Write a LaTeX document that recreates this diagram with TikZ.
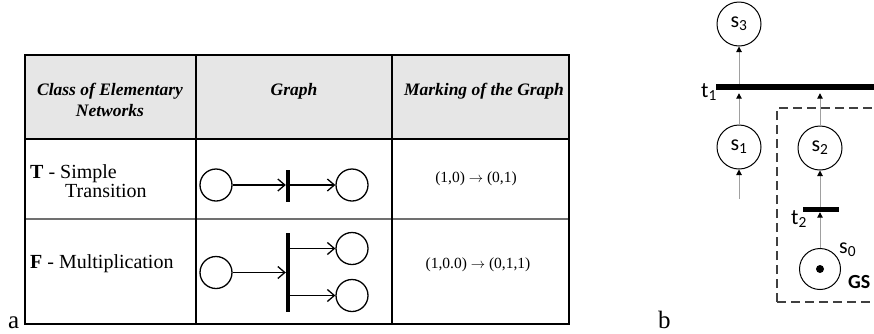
\documentclass[tikz,border=0pt]{standalone}
\usepackage{fontspec}
\setmainfont{Liberation Serif}
\newfontfamily\calfont{Carlito}
\usetikzlibrary{arrows.meta}
\definecolor{hdrgray}{HTML}{E6E6E6}
\definecolor{arcgray}{HTML}{A0A0A0}
\definecolor{dashgray}{HTML}{404040}
\begin{document}
\begin{tikzpicture}[x=1bp,y=-1bp,
  place/.style={circle, draw, line width=1.3bp, minimum size=32bp, inner sep=0pt},
  gbar/.style={rectangle, fill=black, inner sep=0pt, minimum width=4bp},
  garrow/.style={line width=1.3bp, -{Straight Barb[length=7bp,width=12bp,line width=1.3bp]}},
  hdr/.style={font=\fontsize{17.5bp}{21bp}\selectfont\bfseries\itshape, align=center},
  rowtxt/.style={font=\fontsize{20bp}{22bp}\selectfont, anchor=base west, inner sep=0pt},
  marktxt/.style={font=\fontsize{15.5bp}{17bp}\selectfont},
  pnode/.style={circle, draw, line width=1bp, minimum size=44bp, inner sep=0pt, font=\calfont\fontsize{22bp}{24bp}\selectfont},
  pbar/.style={rectangle, fill=black, inner sep=0pt},
  parc/.style={draw=arcgray, line width=1bp, -{Triangle[length=5.5bp,width=5.5bp,color=black]}},
  plabel/.style={font=\calfont\fontsize{22bp}{24bp}\selectfont, inner sep=0pt},
  sublabel/.style={font=\fontsize{25bp}{28bp}\selectfont, anchor=base west, inner sep=0pt}
]
\useasboundingbox (0,0) rectangle (874,333);
\clip (0,0) rectangle (874,333);

% ---------- part a: table ----------
\fill[hdrgray] (25,55) rectangle (569,139);
\draw[arcgray!70!black, line width=1.5bp] (25,219) -- (569,219);
\draw[line width=2bp] (25,139) -- (569,139);
\draw[line width=1.5bp] (196,55) -- (196,324);
\draw[line width=1.5bp] (392,55) -- (392,324);
\draw[line width=2bp] (25,55) rectangle (569,324);

\node[hdr] (h1) at (110,100) {Class of Elementary\\Networks};
\node[hdr] (h2) at (294,91) {Graph};
\node[hdr] (h3) at (484,91) {Marking of the Graph};

\node[rowtxt] (r1a) at (30,178) {\textbf{T} - Simple};
\node[rowtxt] (r1b) at (65,197) {Transition};
\node[rowtxt] (r2a) at (30,268) {\textbf{F} - Multiplication};

\node[marktxt] (m1) at (476,179) {(1,0) $\rightarrow$ (0,1)};
\node[marktxt] (m2) at (478,265) {(1,0.0) $\rightarrow$ (0,1,1)};

% row 1 graph
\node[place] (c1) at (216,185) {};
\node[place] (c2) at (352,185) {};
\node[gbar, minimum height=32bp] (bar1) at (288,186) {};
\draw[garrow] (c1) -- (bar1.west |- c1);
\draw[garrow] (bar1.east |- c1) -- (c2);

% row 2 graph
\node[place] (c3) at (216,272.5) {};
\node[place] (c4) at (352,248.5) {};
\node[place] (c5) at (352,295.5) {};
\node[gbar, minimum height=79bp] (bar2) at (288,272.5) {};
\draw[garrow] (c3) -- (bar2.west |- c3);
\draw[garrow] (bar2.east |- c4) -- (c4);
\draw[garrow] (bar2.east |- c5) -- (c5);

\node[sublabel] (la) at (8,328) {a};

% ---------- part b: Petri net ----------
\node[sublabel] (lb) at (658,328) {b};

\draw[dashgray, line width=1.3bp, dash pattern=on 9bp off 5bp] (777,302) -- (777,108) -- (890,108);
\draw[dashgray, line width=1.3bp, dash pattern=on 9bp off 5bp] (777,302) -- (890,302);

\node[pbar, minimum width=164bp, minimum height=6bp] (t1) at (798,87) {};
\node[pbar, minimum width=36bp, minimum height=5bp] (t2) at (821,209.5) {};

\node[pnode] (s3) at (739,24) {s\textsubscript{3}};
\node[pnode] (s1) at (739,147) {s\textsubscript{1}};
\node[pnode] (s2) at (820,148) {s\textsubscript{2}};
\node[circle, draw, line width=1bp, minimum size=41bp, inner sep=0pt] (s0) at (820,269) {};
\fill (s0.center) circle (4bp);

\coordinate (in1) at (739,199);

\draw[parc] (s3 |- t1.north) -- (s3);
\draw[parc, shorten >=3bp] (s1) -- (s1 |- t1.south);
\draw[parc, shorten >=3bp] (s2) -- (s2 |- t1.south);
\draw[parc] (in1) -- (s1);
\draw[parc] (s2 |- t2.north) -- (s2);
\draw[parc] (s0) -- (s0 |- t2.south);

\node[plabel, anchor=base east] (lt1) at (717,97) {t\textsubscript{1}};
\node[plabel, anchor=base east] (lt2) at (807,224) {t\textsubscript{2}};
\node[plabel, anchor=base west] (ls0) at (839,253) {s\textsubscript{0}};
\node[plabel, anchor=base west, font=\calfont\bfseries\fontsize{20bp}{22bp}\selectfont] (lgs) at (848,288) {GS};
\end{tikzpicture}
\end{document}
